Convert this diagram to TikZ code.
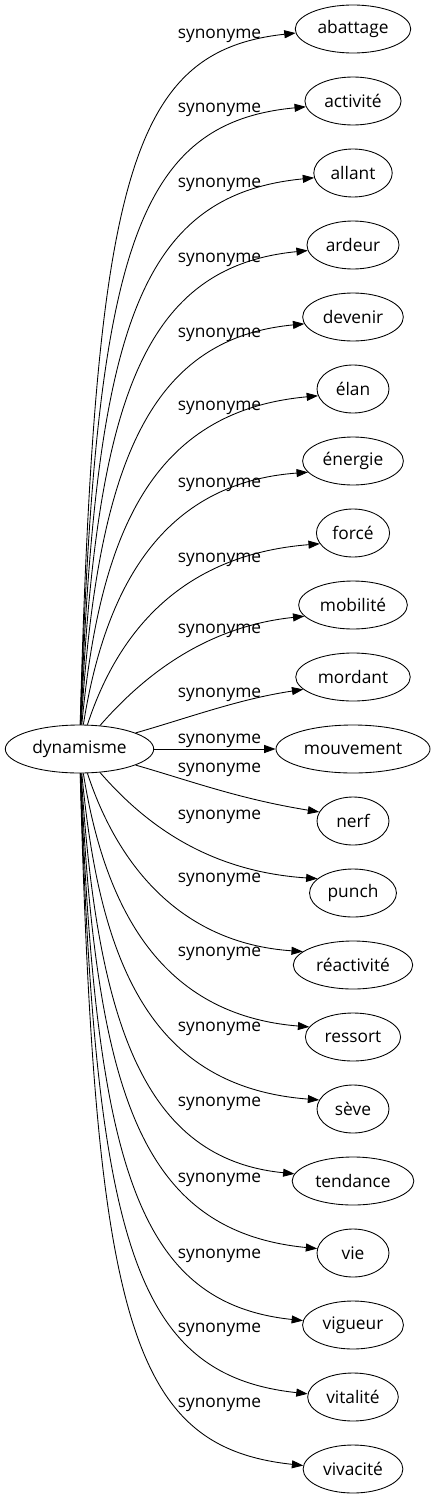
\documentclass[tikz,border=0pt]{standalone}
\usepackage{fontspec}
\setmainfont{Open Sans}
\usepackage{tikz}
\usetikzlibrary{arrows.meta,shapes.geometric}

\begin{document}
\begin{tikzpicture}[
      x=0.75pt, y=-0.75pt,
      word/.style={ellipse, draw, line width=0.65pt, inner xsep=4pt, inner ysep=0pt, minimum width=54pt, minimum height=36pt, font=\fontsize{13}{15}\selectfont},
      rel/.style={anchor=base, inner sep=0pt, font=\fontsize{13}{15}\selectfont},
      link/.style={-{Triangle[length=8.5pt,width=6pt]}, line width=0.65pt}
    ]
      \useasboundingbox (0,0) rectangle (435,1499);
      \node[word] (dynamisme) at (79.5,749) {dynamisme};
      % synonyms, top to bottom: name/text/label baseline/entry anchor
      \foreach \nm/\txt/\ly/\an [count=\n from 0] in {
          abattage/abattage/38/184, activite/activité/112/187, allant/allant/187/187,
          ardeur/ardeur/262/187, devenir/devenir/337/188, elan/élan/410/191,
          energie/énergie/487/194, force/forcé/562/198, mobilite/mobilité/633/193,
          mordant/mordant/697/194, mouvement/mouvement/743/180, nerf/nerf/772/165,
          punch/punch/819/158, reactivite/réactivité/882/165, ressort/ressort/956/167,
          seve/sève/1031/165, tendance/tendance/1106/173, vie/vie/1182/173,
          vigueur/vigueur/1258/175, vitalite/vitalité/1332/176, vivacite/vivacité/1407/176}{
        \pgfmathsetmacro\ty{29+72*\n}
        \node[word] (\nm) at (353,\ty) {\txt};
        \node[rel] (l\nm) at (219.5,\ly) {synonyme};
        \ifnum\n=10
          \draw[link] (dynamisme) -- (\nm);
        \else
          \pgfmathsetmacro\k{abs(\n-10)}
          \pgfmathsetmacro\s{sign(\n-10)}
          \pgfmathsetmacro\ax{95+95*exp(-0.75*(\k-1))}
          \pgfmathsetmacro\ay{749+\s*(0.40+0.04*\k)*72*\k}
          \pgfmathsetmacro\bx{140+100*exp(-0.45*(\k-1))-\k}
          \pgfmathsetmacro\by{\ty-\s*22}
          \draw[link] (dynamisme) .. controls (\ax,\ay) and (\bx,\by) .. (\nm.\an);
        \fi
      }
    \end{tikzpicture}
\end{document}
